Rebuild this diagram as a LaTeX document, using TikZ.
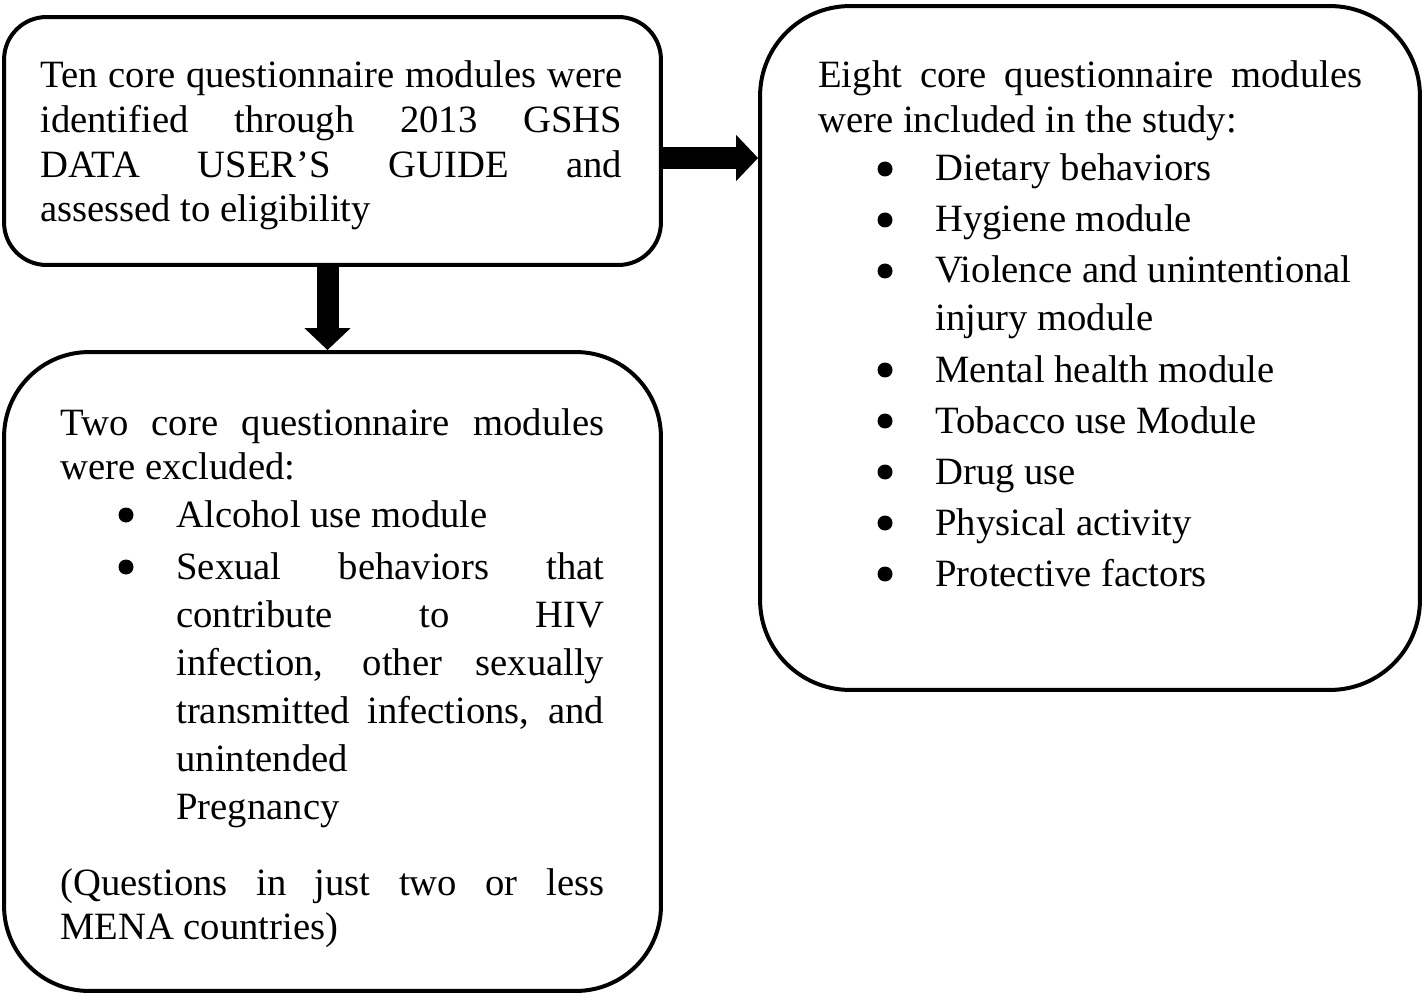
\documentclass[tikz,border=0pt]{standalone}
\usepackage{fontspec}
\setmainfont{Liberation Serif}
\usetikzlibrary{arrows.meta}
\begin{document}
\begin{tikzpicture}[x=0.02cm,y=-0.02cm,
  box/.style={draw=black, line width=0.08cm, rectangle, inner sep=0pt},
  ln/.style={anchor=base west, inner sep=0pt, font=\fontsize{22}{26}\selectfont},
  bul/.style={circle, fill=black, inner sep=0pt, minimum size=0.3cm},
  blockarrow/.style={line width=0.44cm, -{Triangle[width=0.9cm,length=0.44cm]}}]
\useasboundingbox (0,0) rectangle (1425,996);

% boxes
\node[box, minimum width=13.14cm, minimum height=4.96cm, rounded corners=0.85cm] (b1) at (332.5,141) {};
\node[box, minimum width=13.14cm, minimum height=12.78cm, rounded corners=1.7cm] (b2) at (332.5,671.5) {};
\node[box, minimum width=13.2cm, minimum height=13.68cm, rounded corners=1.8cm] (b3) at (1090,348) {};

% arrows
\coordinate (da) at ([xshift=-0.1cm]b1.south);
\coordinate (ra) at ([yshift=-0.34cm]b1.east);
\draw[blockarrow] (da) -- (da |- b2.north);
\draw[blockarrow] (ra) -- (ra -| b3.west);

% box 1 text
\node[ln] (t1a) at (40,88) {\makebox[11.64cm][s]{Ten core questionnaire modules were}};
\node[ln] (t1b) at (40,133) {\makebox[11.64cm][s]{identified through 2013 GSHS}};
\node[ln] (t1c) at (40,178) {\makebox[11.64cm][s]{DATA USER’S GUIDE and}};
\node[ln] (t1d) at (40,222) {assessed to eligibility};

% box 3 text
\node[ln] (t3a) at (818,88) {\makebox[10.88cm][s]{Eight core questionnaire modules}};
\node[ln] (t3b) at (818,133) {were included in the study:};
\node[bul] (p3a) at (885,169) {};
\node[ln] (t3c) at (935,181) {Dietary behaviors};
\node[bul] (p3b) at (885,220) {};
\node[ln] (t3d) at (935,232) {Hygiene module};
\node[bul] (p3c) at (885,271) {};
\node[ln] (t3e) at (935,283) {Violence and unintentional};
\node[ln] (t3f) at (935,331) {injury module};
\node[bul] (p3d) at (885,370) {};
\node[ln] (t3g) at (935,382) {Mental health module};
\node[bul] (p3e) at (885,421) {};
\node[ln] (t3h) at (935,433) {Tobacco use Module};
\node[bul] (p3f) at (885,472) {};
\node[ln] (t3i) at (935,484) {Drug use};
\node[bul] (p3g) at (885,523) {};
\node[ln] (t3j) at (935,535) {Physical activity};
\node[bul] (p3h) at (885,574) {};
\node[ln] (t3k) at (935,586) {Protective factors};

% box 2 text
\node[ln] (t2a) at (60,435) {\makebox[10.88cm][s]{Two core questionnaire modules}};
\node[ln] (t2b) at (60,479) {were excluded:};
\node[bul] (p2a) at (126,515) {};
\node[ln] (t2c) at (176,527) {Alcohol use module};
\node[bul] (p2b) at (126,567) {};
\node[ln] (t2d) at (176,579) {\makebox[8.56cm][s]{Sexual behaviors that}};
\node[ln] (t2e) at (176,627) {\makebox[8.56cm][s]{contribute to HIV}};
\node[ln] (t2f) at (176,675) {\makebox[8.56cm][s]{infection, other sexually}};
\node[ln] (t2g) at (176,723) {\makebox[8.56cm][s]{transmitted infections, and}};
\node[ln] (t2h) at (176,771) {unintended};
\node[ln] (t2i) at (176,819) {Pregnancy};
\node[ln] (t2j) at (60,895) {\makebox[10.88cm][s]{(Questions in just two or less}};
\node[ln] (t2k) at (60,939) {MENA countries)};
\end{tikzpicture}
\end{document}
